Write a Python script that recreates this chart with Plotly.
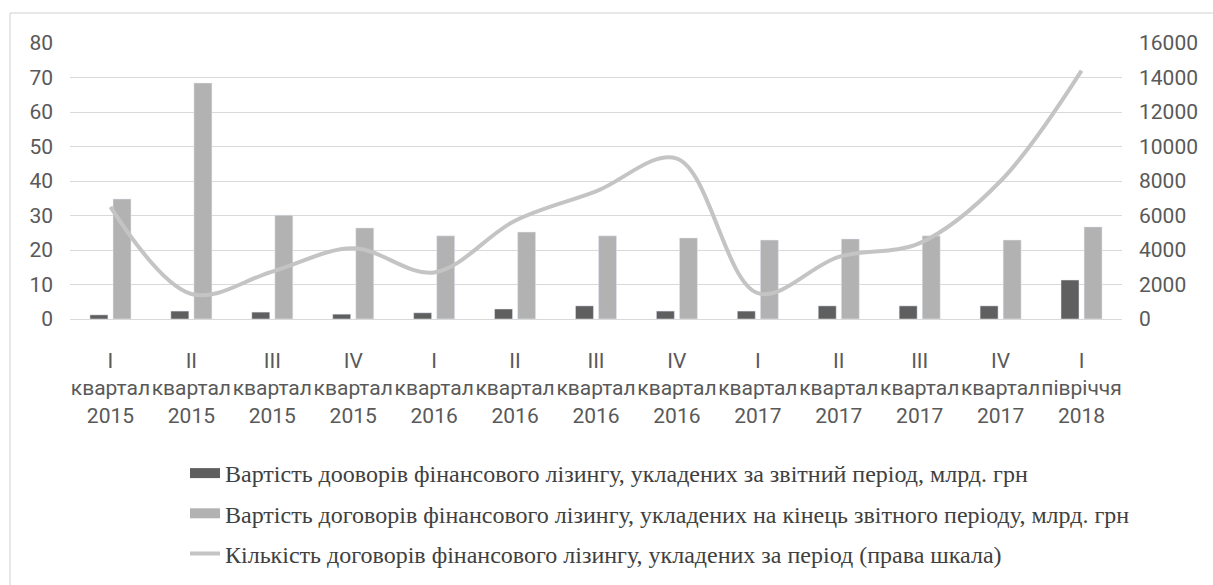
import plotly.graph_objects as go

# Period labels (quarter / half-year, year)
periods = ["I<br>квартал<br>2015", "II<br>квартал<br>2015", "III<br>квартал<br>2015", "IV<br>квартал<br>2015",
           "I<br>квартал<br>2016", "II<br>квартал<br>2016", "III<br>квартал<br>2016", "IV<br>квартал<br>2016",
           "I<br>квартал<br>2017", "II<br>квартал<br>2017", "III<br>квартал<br>2017", "IV<br>квартал<br>2017",
           "I<br>півріччя<br>2018"]

# Value of contracts concluded in the period, bn UAH
value_period = [1.2, 2.3, 2.0, 1.4, 1.8, 2.9, 3.8, 2.3, 2.3, 3.8, 3.8, 3.8, 11.3]
# Value of contracts at the end of the period, bn UAH
value_end = [34.8, 68.4, 30.1, 26.4, 24.1, 25.2, 24.1, 23.5, 22.9, 23.2, 24.1, 22.9, 26.7]
# Number of contracts concluded in the period (right scale)
count_period = [6500, 1450, 2750, 4100, 2700, 5700, 7400, 9300, 1500, 3600, 4400, 8000, 14400]

names = [
    "Вартість дооворів фінансового лізингу, укладених за звітний період, млрд. грн",
    "Вартість договорів фінансового лізингу, укладених на кінець звітного періоду, млрд. грн",
    "Кількість договорів фінансового лізингу, укладених за період (права шкала)",
]

DARK = "#5f5f5f"
LIGHT = "#b2b2b2"
LINE = "#c4c4c4"
AXIS_FONT = dict(family="Roboto", size=21, color="#595959")

# plot area in pixels
L, R, T, B = 70, 91, 43, 266
W, H = 1213, 585
PW, PH = W - L - R, H - T - B


def px_x(px):
    return (px - L) / PW


def px_y(py):
    return (H - B - py) / PH


fig = go.Figure()
fig.add_trace(go.Bar(x=periods, y=value_period, marker_color=DARK, name=names[0],
                     showlegend=False, yaxis="y"))
fig.add_trace(go.Bar(x=periods, y=value_end, marker_color=LIGHT, name=names[1],
                     showlegend=False, yaxis="y"))
fig.add_trace(go.Scatter(x=periods, y=count_period, mode="lines", name=names[2],
                         line=dict(color=LINE, width=4, shape="spline", smoothing=1.0),
                         showlegend=False, yaxis="y2"))

# Legend keys drawn as wide bands
for i, (nm, col, w) in enumerate(zip(names, [DARK, LIGHT, LINE], [14, 14, 4])):
    fig.add_trace(go.Scatter(x=[None], y=[None], mode="lines", name=nm,
                             line=dict(color=col, width=w), legendgroup=f"g{i}",
                             yaxis="y"))

fig.update_layout(
    width=W, height=H,
    margin=dict(l=L, r=R, t=T, b=B, autoexpand=False),
    paper_bgcolor="white", plot_bgcolor="white",
    barmode="group", bargap=0.43, bargroupgap=0.22,
    xaxis=dict(type="category", tickfont=AXIS_FONT, tickangle=0, showgrid=False,
               showline=False, ticks="", ticklabelstandoff=27),
    yaxis=dict(range=[0, 80], dtick=10, tickfont=AXIS_FONT, showgrid=True,
               gridcolor="#d9d9d9", gridwidth=1, zeroline=True, zerolinecolor="#d9d9d9",
               zerolinewidth=1, ticks="", ticklabelstandoff=16, showline=False),
    yaxis2=dict(range=[0, 16000], dtick=2000, tickformat="d", overlaying="y", side="right",
                tickfont=AXIS_FONT, showgrid=False, zeroline=False, ticks="",
                ticklabelstandoff=16, showline=False),
    legend=dict(x=px_x(185), y=px_y(451),
                xanchor="left", yanchor="top", orientation="v",
                font=dict(family="Liberation Serif", size=24, color="#404040"),
                tracegroupgap=6, bgcolor="rgba(0,0,0,0)"),
    shapes=[dict(type="rect", xref="paper", yref="paper",
                 x0=px_x(10), x1=px_x(1220), y0=px_y(600), y1=px_y(13),
                 line=dict(color="#d0d0d0", width=1), layer="below")],
)

fig.write_html("out.html")
